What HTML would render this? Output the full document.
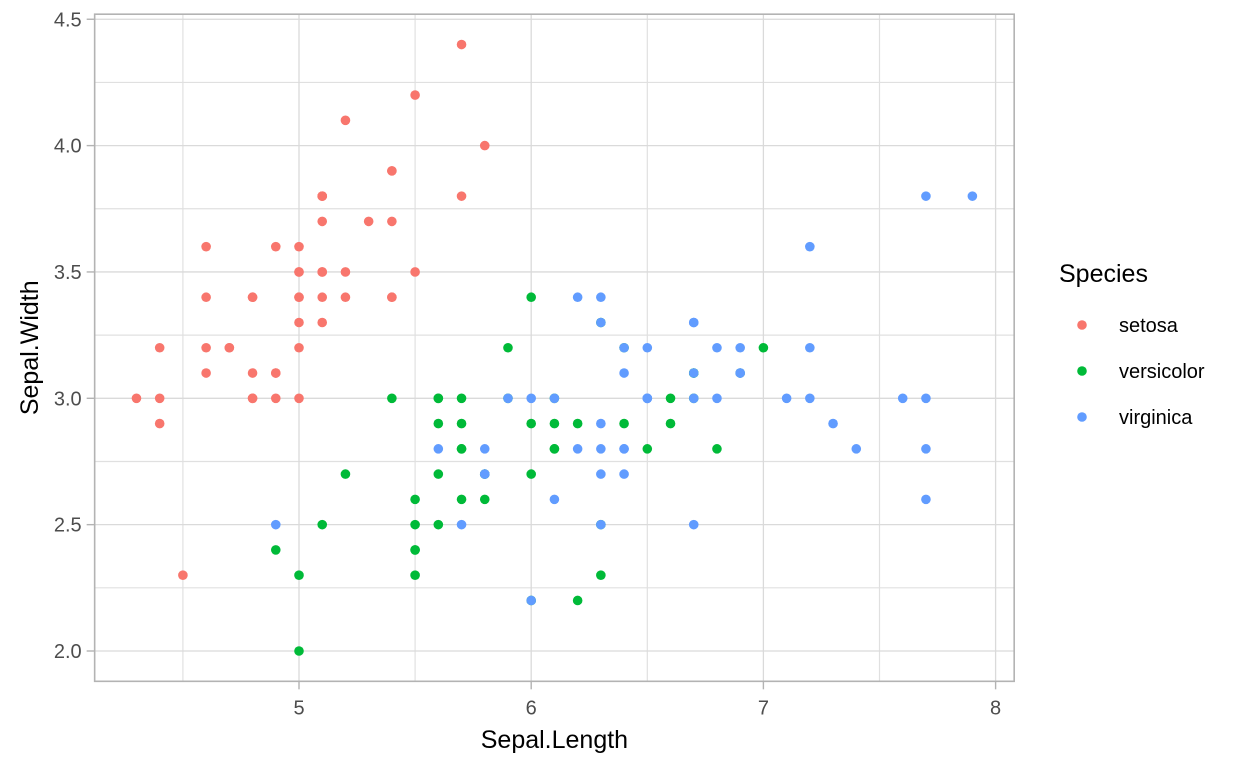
<!DOCTYPE html>
<html><head><meta charset="utf-8"><style>
body{margin:0;background:#fff;}
svg{display:block;font-family:"Liberation Sans",Arial,sans-serif;}
</style></head><body>
<svg id="chart" width="1248" height="768"></svg>
<script>
const xTicks=[5,6,7,8];
const yTicks=[2.0,2.5,3.0,3.5,4.0,4.5];
const species=["setosa","versicolor","virginica"];
const colors=["#F8766D","#00BA38","#619CFF"];
const setosaSL=[5.1,4.9,4.7,4.6,5.0,5.4,4.6,5.0,4.4,4.9,5.4,4.8,4.8,4.3,5.8,5.7,5.4,5.1,5.7,5.1,5.4,5.1,4.6,5.1,4.8,5.0,5.0,5.2,5.2,4.7,4.8,5.4,5.2,5.5,4.9,5.0,5.5,4.9,4.4,5.1,5.0,4.5,4.4,5.0,5.1,4.8,5.1,4.6,5.3,5.0];
const setosaSW=[3.5,3.0,3.2,3.1,3.6,3.9,3.4,3.4,2.9,3.1,3.7,3.4,3.0,3.0,4.0,4.4,3.9,3.5,3.8,3.8,3.4,3.7,3.6,3.3,3.4,3.0,3.4,3.5,3.4,3.2,3.1,3.4,4.1,4.2,3.1,3.2,3.5,3.6,3.0,3.4,3.5,2.3,3.2,3.5,3.8,3.0,3.8,3.2,3.7,3.3];
const versicolorSL=[7.0,6.4,6.9,5.5,6.5,5.7,6.3,4.9,6.6,5.2,5.0,5.9,6.0,6.1,5.6,6.7,5.6,5.8,6.2,5.6,5.9,6.1,6.3,6.1,6.4,6.6,6.8,6.7,6.0,5.7,5.5,5.5,5.8,6.0,5.4,6.0,6.7,6.3,5.6,5.5,5.5,6.1,5.8,5.0,5.6,5.7,5.7,6.2,5.1,5.7];
const versicolorSW=[3.2,3.2,3.1,2.3,2.8,2.8,3.3,2.4,2.9,2.7,2.0,3.0,2.2,2.9,2.9,3.1,3.0,2.7,2.2,2.5,3.2,2.8,2.5,2.8,2.9,3.0,2.8,3.0,2.9,2.6,2.4,2.4,2.7,2.7,3.0,3.4,3.1,2.3,3.0,2.5,2.6,3.0,2.6,2.3,2.7,3.0,2.9,2.9,2.5,2.8];
const virginicaSL=[6.3,5.8,7.1,6.3,6.5,7.6,4.9,7.3,6.7,7.2,6.5,6.4,6.8,5.7,5.8,6.4,6.5,7.7,7.7,6.0,6.9,5.6,7.7,6.3,6.7,7.2,6.2,6.1,6.4,7.2,7.4,7.9,6.4,6.3,6.1,7.7,6.3,6.4,6.0,6.9,6.7,6.9,5.8,6.8,6.7,6.7,6.3,6.5,6.2,5.9];
const virginicaSW=[3.3,2.7,3.0,2.9,3.0,3.0,2.5,2.9,2.5,3.6,3.2,2.7,3.0,2.5,2.8,3.2,3.0,3.8,2.6,2.2,3.2,2.8,2.8,2.7,3.3,3.2,2.8,3.0,2.8,3.0,2.8,3.8,2.8,2.8,2.6,3.0,3.4,3.1,3.0,3.1,3.1,3.1,2.7,3.2,3.3,3.0,2.5,3.0,3.4,3.0];

const NS="http://www.w3.org/2000/svg";
const svg=document.getElementById("chart");
const X=v=>299+(v-5)*232.2;
const Y=v=>651-(v-2)*252.7;
const L=X(4.12),R=X(8.08),T=Y(4.52),B=Y(1.88);
function mk(tag,attrs,parent){const e=document.createElementNS(NS,tag);for(const k in attrs)e.setAttribute(k,attrs[k]);(parent||svg).appendChild(e);return e;}

const grid=mk("g",{});


for(let v=4.5;v<=8;v+=1){mk("line",{x1:X(v),x2:X(v),y1:T,y2:B,stroke:"#e0e0e0","stroke-width":1.2},grid);}
for(let v=2.25;v<=4.5;v+=0.5){mk("line",{x1:L,x2:R,y1:Y(v),y2:Y(v),stroke:"#e0e0e0","stroke-width":1.2},grid);}
xTicks.forEach(v=>mk("line",{x1:X(v),x2:X(v),y1:T,y2:B,stroke:"#dadada","stroke-width":1.3},grid));
yTicks.forEach(v=>mk("line",{x1:L,x2:R,y1:Y(v),y2:Y(v),stroke:"#dadada","stroke-width":1.3},grid));

const border=mk("rect",{x:L,y:T,width:R-L,height:B-T,fill:"none",stroke:"#b3b3b3","stroke-width":1.6});



const xa=mk("g",{});


xTicks.forEach(v=>{mk("line",{x1:X(v),x2:X(v),y1:B,y2:B+8,stroke:"#b3b3b3","stroke-width":1.4},xa);
 const t=mk("text",{x:X(v),y:B+33,"text-anchor":"middle","font-size":20,fill:"#4d4d4d"},xa);t.textContent=v;
 
 });
const ya=mk("g",{});


yTicks.forEach(v=>{mk("line",{x1:L-8,x2:L,y1:Y(v),y2:Y(v),stroke:"#b3b3b3","stroke-width":1.4},ya);
 const t=mk("text",{x:L-13,y:Y(v)+7,"text-anchor":"end","font-size":20,fill:"#4d4d4d"},ya);t.textContent=v.toFixed(1);
 
 });

const xt=mk("text",{x:(L+R)/2,y:748,"text-anchor":"middle","font-size":25,fill:"#000"});xt.textContent="Sepal.Length";


const yt=mk("text",{x:0,y:0,"text-anchor":"middle","font-size":25,fill:"#000",transform:`translate(38,${(T+B)/2}) rotate(-90)`});yt.textContent="Sepal.Width";



const series=[[setosaSL,setosaSW],[versicolorSL,versicolorSW],[virginicaSL,virginicaSW]];
series.forEach((s,i)=>{const g=mk("g",{});
 
 
 s[0].forEach((x,j)=>{const c=mk("circle",{cx:X(x),cy:Y(s[1][j]),r:4.8,fill:colors[i]},g);
  
  });});

const lg=mk("g",{});


const lt=mk("text",{x:1059,y:282,"font-size":25,fill:"#000"},lg);lt.textContent="Species";


species.forEach((s,i)=>{const e=mk("g",{},lg);
 
 
 const cy=325+i*46;
 mk("circle",{cx:1082,cy:cy,r:4.8,fill:colors[i]},e);
 const t=mk("text",{x:1119,y:cy+7,"font-size":20,fill:"#000"},e);t.textContent=s;});
</script>
</body></html>
